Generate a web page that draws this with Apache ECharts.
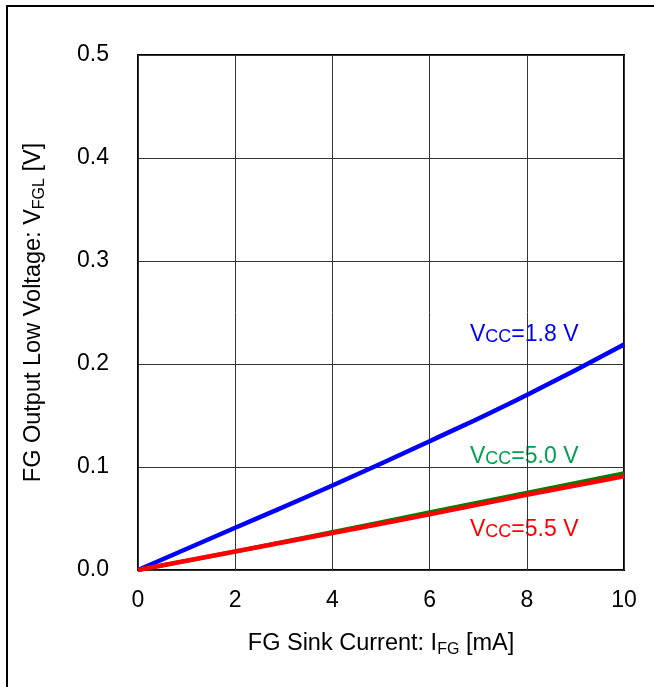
<!DOCTYPE html>
<html><head><meta charset="utf-8">
<script src="https://cdn.jsdelivr.net/npm/echarts@6/dist/echarts.min.js"></script>
<style>html,body{margin:0;padding:0;background:#fff}#c{width:654px;height:687px}</style>
</head><body><div id="c"></div>
<script>
const xValues = [0, 2, 4, 6, 8, 10];
const vcc18 = [0, 0.041, 0.082, 0.125, 0.170, 0.219];
const vcc50 = [0, 0.018, 0.037, 0.056, 0.075, 0.094];
const vcc55 = [0, 0.018, 0.036, 0.054, 0.073, 0.091];
const seriesNames = ['VCC=1.8 V', 'VCC=5.0 V', 'VCC=5.5 V'];
const xTicks = ['0', '2', '4', '6', '8', '10'];
const yTicks = ['0.0', '0.1', '0.2', '0.3', '0.4', '0.5'];

const F = '"Liberation Sans", Arial, sans-serif';
const pair = (xs, ys) => xs.map((x, i) => [x, ys[i]]);
const chart = echarts.init(document.getElementById('c'));
function lbl(color) {
  return {
    rich: {
      a: { fontFamily: F, fontSize: 23, fill: color, color: color },
      s: { fontFamily: F, fontSize: 18, fill: color, color: color, verticalAlign: 'bottom', padding: [4, 0, 0, 0] }
    }
  };
}
const titleRich = { rich: { a: { fontFamily: F, fontSize: 23.5, color: '#000' }, s: { fontFamily: F, fontSize: 16, color: '#000', padding: [12, 0, 0, 0] } } };
chart.setOption({
  animation: false,
  grid: { left: 138, top: 55, right: 30, bottom: 117, show: true, borderColor: '#000', borderWidth: 2 },
  xAxis: {
    type: 'value', min: 0, max: 10, interval: 2,
    name: '{a|FG Sink Current: I}{s|FG}{a| [mA]}', nameLocation: 'middle', nameGap: 60,
    nameTextStyle: titleRich,
    axisLine: { show: false }, axisTick: { show: false },
    axisLabel: { fontFamily: F, fontSize: 23, color: '#000', margin: 19, formatter: (v) => xTicks[xValues.indexOf(v)] },
    splitLine: { lineStyle: { color: '#333', width: 1 } }
  },
  yAxis: {
    type: 'value', min: 0, max: 0.5, interval: 0.1,
    name: '{a|FG Output Low Voltage: V}{s|FGL}{a| [V]}', nameLocation: 'middle', nameGap: 90,
    nameTextStyle: titleRich,
    axisLine: { show: false }, axisTick: { show: false },
    axisLabel: { fontFamily: F, fontSize: 23, color: '#000', margin: 29, formatter: (v) => yTicks[Math.round(v * 10)] },
    splitLine: { lineStyle: { color: '#333', width: 1 } }
  },
  series: [
    { name: seriesNames[0], type: 'line', data: pair(xValues, vcc18), symbol: 'none', smooth: true, lineStyle: { color: '#0000ff', width: 4.5 }, z: 3 },
    { name: seriesNames[1], type: 'line', data: pair(xValues, vcc50), symbol: 'none', smooth: true, lineStyle: { color: '#008000', width: 4 }, z: 2 },
    { name: seriesNames[2], type: 'line', data: pair(xValues, vcc55), symbol: 'none', smooth: true, lineStyle: { color: '#ff0000', width: 4.5 }, z: 4 }
  ],
  graphic: [
    { type: 'rect', shape: { x: 7, y: 6, width: 800, height: 800 }, style: { fill: 'none', stroke: '#000', lineWidth: 2 }, silent: true },
    { type: 'text', left: 470, top: 323, style: Object.assign({ text: '{a|V}{s|CC}{a|=1.8 V}' }, lbl('#0000ff')) },
    { type: 'text', left: 470, top: 445, style: Object.assign({ text: '{a|V}{s|CC}{a|=5.0 V}' }, lbl('#00a050')) },
    { type: 'text', left: 470, top: 518, style: Object.assign({ text: '{a|V}{s|CC}{a|=5.5 V}' }, lbl('#ff0000')) }
  ]
});
</script></body></html>
